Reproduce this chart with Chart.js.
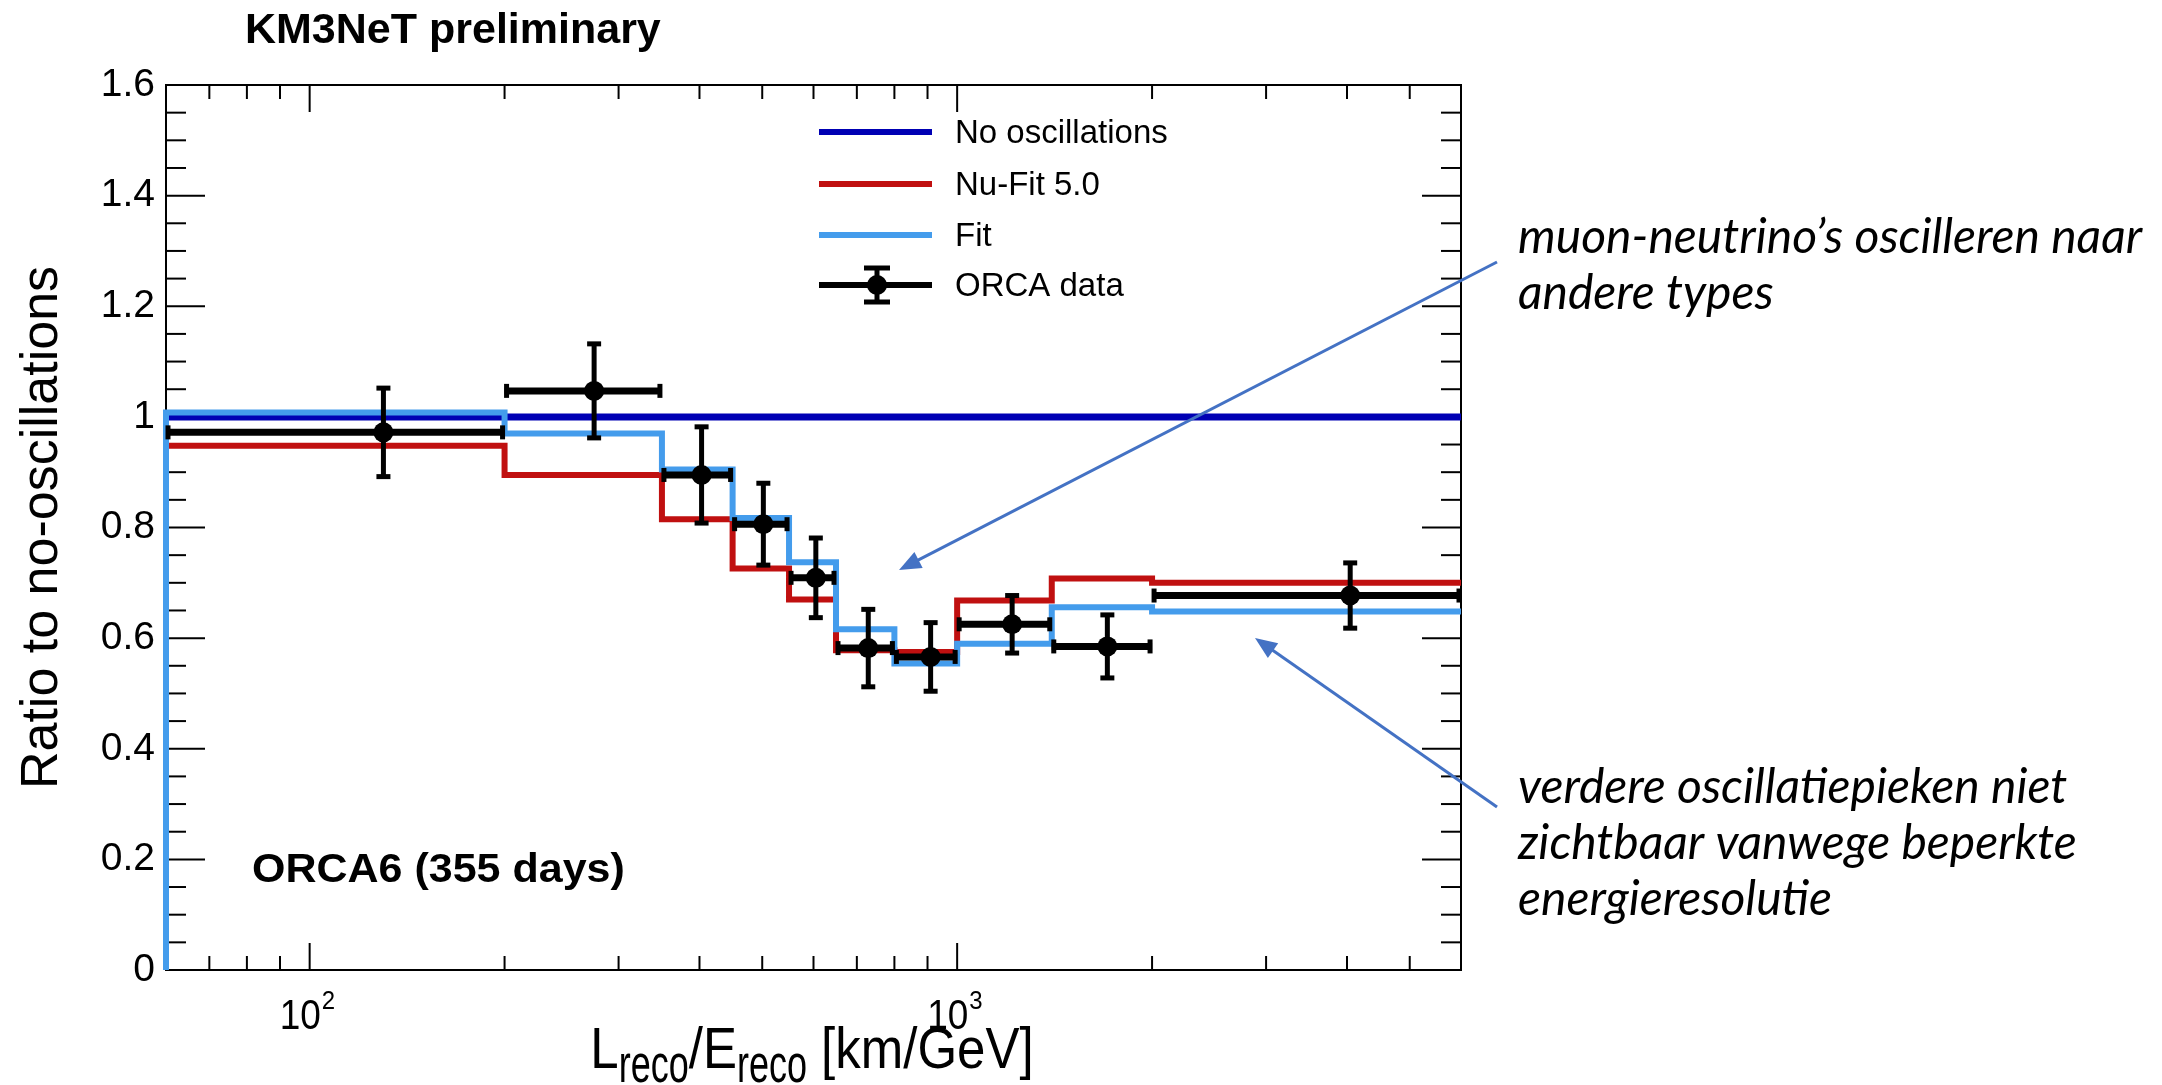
<!DOCTYPE html>
<html>
<head>
<meta charset="utf-8">
<title>ORCA6 ratio to no-oscillations</title>
<script src="https://cdn.jsdelivr.net/npm/chart.js@4.4.1/dist/chart.umd.min.js"></script>
<style>
  html, body { margin: 0; padding: 0; background: #fff; }
  #wrap { width: 2162px; height: 1085px; }
</style>
</head>
<body>
<div id="wrap"><canvas id="ratioChart" width="2162" height="1085"></canvas></div>
<script>
// bins in L/E [km/GeV]
const binEdges = [60, 200, 350, 450, 550, 650, 800, 1000, 1400, 2000, 6000];
const noOscValues = [1, 1, 1, 1, 1, 1, 1, 1, 1, 1];
const nuFitValues = [0.948, 0.895, 0.815, 0.726, 0.670, 0.578, 0.575, 0.668, 0.708, 0.700];
const fitValues = [1.008, 0.970, 0.905, 0.817, 0.737, 0.616, 0.554, 0.590, 0.656, 0.648];
// ORCA data points
const orcaX = [130, 275, 403, 502, 605, 729, 910, 1216, 1706, 4046];
const orcaY = [0.972, 1.047, 0.895, 0.806, 0.709, 0.582, 0.566, 0.625, 0.585, 0.677];
const orcaErr = [0.080, 0.085, 0.087, 0.074, 0.072, 0.070, 0.062, 0.052, 0.057, 0.059];
// axis ticks
const yTicks = [0, 0.2, 0.4, 0.6, 0.8, 1, 1.2, 1.4, 1.6];
const yTickLabels = ['0', '0.2', '0.4', '0.6', '0.8', '1', '1.2', '1.4', '1.6'];
const xTickValues = [100, 1000];
const xTickExponents = ['2', '3'];

const FONT = '"Liberation Sans", Arial, Helvetica, sans-serif';
const NOTE_FONT = 'Lato, "Open Sans", sans-serif';
const DARK_BLUE = '#0000b4';
const RED = '#c01010';
const LIGHT_BLUE = '#449cec';
const ARROW = '#4472c4';

Chart.defaults.font.family = FONT;

function histPoints(values, fromZero) {
  const pts = fromZero ? [{ x: binEdges[0], y: 0 }] : [];
  values.forEach((v, i) => pts.push({ x: binEdges[i], y: v }));
  pts.push({ x: binEdges[binEdges.length - 1], y: values[values.length - 1] });
  return pts;
}

function seg(ctx, x1, y1, x2, y2) {
  ctx.beginPath();
  ctx.moveTo(x1, y1);
  ctx.lineTo(x2, y2);
  ctx.stroke();
}

// text with an optional vertical stretch, drawn at baseline y
function txt(ctx, s, x, y, font, sy, align) {
  ctx.save();
  ctx.font = font;
  ctx.textAlign = align || 'left';
  ctx.textBaseline = 'alphabetic';
  ctx.translate(x, y);
  ctx.scale(1, sy || 1);
  ctx.fillText(s, 0, 0);
  const w = ctx.measureText(s).width;
  ctx.restore();
  return w;
}

function arrow(ctx, x1, y1, x2, y2) {
  const ang = Math.atan2(y2 - y1, x2 - x1);
  const len = 22, half = 9;
  ctx.beginPath();
  ctx.moveTo(x1, y1);
  ctx.lineTo(x2 - Math.cos(ang) * len * 0.8, y2 - Math.sin(ang) * len * 0.8);
  ctx.stroke();
  ctx.beginPath();
  ctx.moveTo(x2, y2);
  ctx.lineTo(x2 - Math.cos(ang) * len - Math.sin(ang) * half, y2 - Math.sin(ang) * len + Math.cos(ang) * half);
  ctx.lineTo(x2 - Math.cos(ang) * len + Math.sin(ang) * half, y2 - Math.sin(ang) * len - Math.cos(ang) * half);
  ctx.closePath();
  ctx.fill();
}

const rootStyle = {
  id: 'rootStyle',
  beforeDatasetsDraw(chart) {
    const { ctx, chartArea: a, scales: { x, y } } = chart;
    ctx.save();
    ctx.strokeStyle = '#000';
    ctx.lineWidth = 2;
    ctx.strokeRect(a.left, a.top, a.right - a.left, a.bottom - a.top);
    // y ticks, inside on both sides
    for (let k = 1; k < 32; k++) {
      const py = y.getPixelForValue(k * 0.05);
      const len = k % 4 === 0 ? 39 : 20;
      seg(ctx, a.left, py, a.left + len, py);
      seg(ctx, a.right, py, a.right - len, py);
    }
    // log x ticks, inside on top and bottom
    [10, 100, 1000].forEach(d => {
      for (let k = 1; k <= 9; k++) {
        const v = k * d;
        if (v <= x.min || v >= x.max) continue;
        const px = x.getPixelForValue(v);
        const len = k === 1 ? 27 : 14;
        seg(ctx, px, a.bottom, px, a.bottom - len);
        seg(ctx, px, a.top, px, a.top + len);
      }
    });
    ctx.restore();
  },
  afterDatasetsDraw(chart) {
    const { ctx, scales: { x, y } } = chart;
    ctx.save();
    ctx.strokeStyle = '#000';
    orcaX.forEach((xv, i) => {
      const px = x.getPixelForValue(xv);
      const py = y.getPixelForValue(orcaY[i]);
      const x0 = x.getPixelForValue(binEdges[i]);
      const x1 = x.getPixelForValue(binEdges[i + 1]);
      const yTop = y.getPixelForValue(orcaY[i] + orcaErr[i]);
      const yBot = y.getPixelForValue(orcaY[i] - orcaErr[i]);
      ctx.lineWidth = 7;
      seg(ctx, x0, py, x1, py);
      ctx.lineWidth = 5;
      seg(ctx, px, yTop, px, yBot);
      seg(ctx, px - 7, yTop, px + 7, yTop);
      seg(ctx, px - 7, yBot, px + 7, yBot);
      seg(ctx, x0 + 2, py - 7, x0 + 2, py + 7);
      seg(ctx, x1 - 2, py - 7, x1 - 2, py + 7);
    });
    ctx.restore();
  },
  afterDraw(chart) {
    const { ctx, scales: { x } } = chart;
    ctx.save();
    ctx.fillStyle = '#000';

    // title and label inside the frame
    txt(ctx, 'KM3NeT preliminary', 245, 43, `bold 43px ${FONT}`);
    txt(ctx, 'ORCA6 (355 days)', 252, 882, `bold 43px ${FONT}`, 0.93);

    // x tick labels 10^n
    xTickValues.forEach((v, i) => {
      const px = x.getPixelForValue(v);
      const w = txt(ctx, '10', px - 30, 1029, `37px ${FONT}`, 1.13);
      txt(ctx, xTickExponents[i], px - 30 + w + 1, 1009, `24px ${FONT}`, 1.1);
    });

    // x axis title with subscripts
    const parts = [
      { t: 'L' }, { t: 'reco', sub: true }, { t: '/E' }, { t: 'reco', sub: true }, { t: ' [km/GeV]' }
    ];
    const mainFont = `51px ${FONT}`, subFont = `36px ${FONT}`;
    let total = 0;
    parts.forEach(p => { ctx.font = p.sub ? subFont : mainFont; total += ctx.measureText(p.t).width; });
    let cx = 812 - total / 2;
    parts.forEach(p => {
      cx += p.sub ? txt(ctx, p.t, cx, 1082, subFont, 1.5) : txt(ctx, p.t, cx, 1068, mainFont, 1.12);
    });

    // legend
    const rows = [
      { label: 'No oscillations', color: DARK_BLUE, y: 132 },
      { label: 'Nu-Fit 5.0', color: RED, y: 184 },
      { label: 'Fit', color: LIGHT_BLUE, y: 235 },
      { label: 'ORCA data', color: '#000', y: 285, data: true }
    ];
    rows.forEach(r => {
      ctx.strokeStyle = r.color;
      ctx.lineWidth = 6;
      seg(ctx, 819, r.y, 932, r.y);
      if (r.data) {
        ctx.lineWidth = 5;
        seg(ctx, 877, r.y - 17, 877, r.y + 17);
        seg(ctx, 864, r.y - 17, 890, r.y - 17);
        seg(ctx, 864, r.y + 17, 890, r.y + 17);
        ctx.beginPath();
        ctx.arc(877, r.y, 10, 0, Math.PI * 2);
        ctx.fill();
      }
      txt(ctx, r.label, 955, r.y + 11, `33px ${FONT}`);
    });

    // annotations
    ctx.strokeStyle = ARROW;
    ctx.fillStyle = ARROW;
    ctx.lineWidth = 3;
    arrow(ctx, 1497, 262, 899, 570);
    arrow(ctx, 1497, 807, 1255, 638);

    ctx.fillStyle = '#000';
    ctx.font = `italic 40px ${NOTE_FONT}`;
    const size = Math.round(40 * 618 / ctx.measureText('muon-neutrino\u2019s oscilleren naar').width);
    const noteFont = `italic ${size}px ${NOTE_FONT}`;
    const notes = [
      ['muon-neutrino\u2019s oscilleren naar', 253],
      ['andere types', 309],
      ['verdere oscillatiepieken niet', 803],
      ['zichtbaar vanwege beperkte', 859],
      ['energieresolutie', 915]
    ];
    notes.forEach(([s, by]) => txt(ctx, s, 1518, by, noteFont));
    ctx.restore();
  }
};

const ctx = document.getElementById('ratioChart');
new Chart(ctx, {
  type: 'scatter',
  data: {
    datasets: [
      {
        label: 'ORCA data',
        data: orcaX.map((v, i) => ({ x: v, y: orcaY[i] })),
        backgroundColor: '#000',
        borderWidth: 0,
        pointRadius: 10,
        order: 0,
      },
      {
        label: 'Fit',
        data: histPoints(fitValues, true),
        showLine: true,
        stepped: true,
        borderColor: LIGHT_BLUE,
        borderWidth: 6,
        pointRadius: 0,
        clip: 8,
        order: 1,
      },
      {
        label: 'Nu-Fit 5.0',
        data: histPoints(nuFitValues, true),
        showLine: true,
        stepped: true,
        borderColor: RED,
        borderWidth: 6,
        pointRadius: 0,
        clip: 8,
        order: 2,
      },
      {
        label: 'No oscillations',
        data: histPoints(noOscValues, false),
        showLine: true,
        stepped: true,
        borderColor: DARK_BLUE,
        borderWidth: 7,
        pointRadius: 0,
        clip: 8,
        order: 3,
      },
    ],
  },
  options: {
    responsive: false,
    animation: false,
    events: [],
    layout: { padding: { left: 0, right: 701, top: 85, bottom: 0 } },
    plugins: {
      legend: { display: false },
      tooltip: { enabled: false },
    },
    scales: {
      x: {
        type: 'logarithmic',
        min: 60,
        max: 6000,
        ticks: { display: false },
        grid: { display: false, drawTicks: false },
        border: { display: false },
        afterFit: (s) => { s.height = 115; },
      },
      y: {
        min: 0,
        max: 1.6,
        afterBuildTicks: (s) => { s.ticks = yTicks.map(v => ({ value: v })); },
        ticks: {
          callback: (v, i) => yTickLabels[i],
          color: '#000',
          font: { size: 39 },
          padding: 11,
        },
        grid: { display: false, drawTicks: false },
        border: { display: false },
        title: {
          display: true,
          text: 'Ratio to no-oscillations',
          color: '#000',
          font: { size: 52 },
          padding: { top: 11, bottom: 0 },
        },
        afterFit: (s) => { s.width = 166; },
      },
    },
  },
  plugins: [rootStyle],
});
</script>
</body>
</html>
